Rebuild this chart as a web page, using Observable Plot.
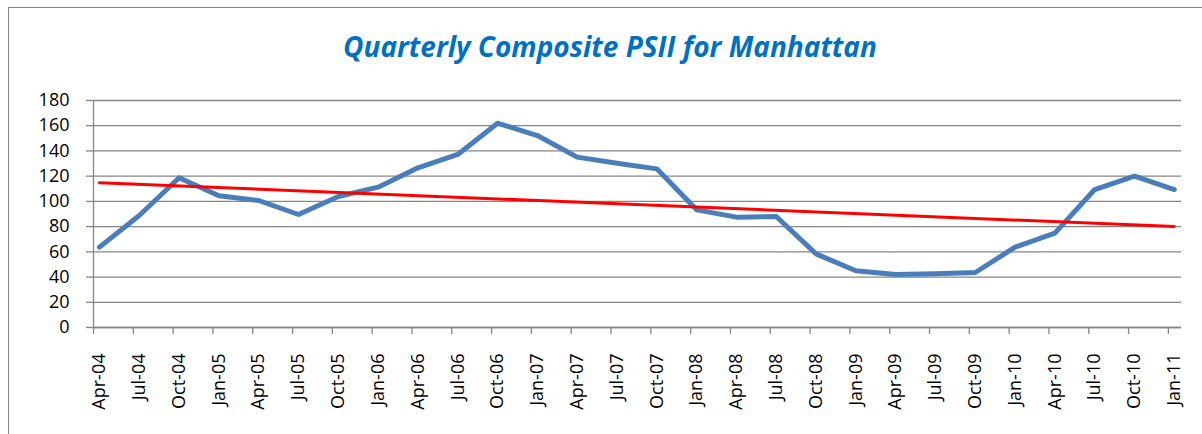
<!DOCTYPE html>
<html>
<head>
<meta charset="utf-8">
<script src="https://cdn.jsdelivr.net/npm/d3@7"></script>
<script src="https://cdn.jsdelivr.net/npm/@observablehq/plot@0.6"></script>
<style>
  html, body { margin: 0; padding: 0; background: #fff; overflow: hidden; }
  body { width: 1202px; height: 434px; position: relative; font-family: "Open Sans", sans-serif; }
  #frame { position: absolute; left: 8px; top: 7px; width: 1220px; height: 460px; border: 1px solid #868686; box-sizing: border-box; pointer-events: none; }
  #title { position: relative; height: 80px; width: 1202px; }
  #title span { position: absolute; left: 610px; top: 27px; transform: translateX(-50%); white-space: nowrap;
    font-family: "Open Sans", sans-serif; font-weight: bold; font-style: italic; font-size: 28px; color: #0070C0; }
  #chart { position: relative; }
</style>
</head>
<body>
<div id="frame"></div>
<div id="title"><span>Quarterly Composite PSII for Manhattan</span></div>
<div id="chart"></div>
<script>
// Category labels (quarters)
const quarters = ["Apr-04","Jul-04","Oct-04","Jan-05","Apr-05","Jul-05","Oct-05","Jan-06","Apr-06","Jul-06","Oct-06","Jan-07","Apr-07","Jul-07","Oct-07","Jan-08","Apr-08","Jul-08","Oct-08","Jan-09","Apr-09","Jul-09","Oct-09","Jan-10","Apr-10","Jul-10","Oct-10","Jan-11"];
// Composite PSII values
const psii = [63.7, 88.8, 118.7, 104.4, 100.7, 89.6, 103.9, 111.3, 126.6, 137.2, 162, 152.2, 135.1, 130.3, 125.8, 93.3, 87.5, 88, 58.4, 45, 42, 42.6, 43.6, 63.7, 74.8, 109.4, 120, 109.4];
// Y axis tick values
const yTicks = [0, 20, 40, 60, 80, 100, 120, 140, 160, 180];

const pointOffset = 0.15;
const data = quarters.map((q, i) => ({q, i, x: i + pointOffset, v: psii[i]}));

const chart = Plot.plot({
  width: 1202,
  height: 354,
  marginLeft: 93,
  marginRight: 21,
  marginTop: 20,
  marginBottom: 107,
  style: {fontFamily: "Open Sans, sans-serif", fontSize: "18px", color: "#000", background: "transparent"},
  x: {type: "linear", domain: [0, 27.33]},
  y: {domain: [0, 180]},
  marks: [
    Plot.gridY(yTicks, {stroke: "#868686", strokeOpacity: 1, strokeWidth: 1.3}),
    Plot.axisY(yTicks, {tickSize: 7, tickPadding: 17, stroke: "#868686", strokeWidth: 1.3, label: null, tickFormat: d => String(d)}),
    Plot.axisX(d3.range(quarters.length), {tickSize: 7, tickFormat: () => "", stroke: "#868686", strokeWidth: 1.3, label: null}),
    Plot.axisX(data.map(d => d.x), {tickSize: 0, tickPadding: 26, tickRotate: -90, tickFormat: (d, k) => quarters[Math.round(d - pointOffset)], label: null}),
    Plot.ruleX([0], {y1: 0, y2: 180, stroke: "#868686", strokeWidth: 1.3}),
    Plot.ruleY([0], {stroke: "#868686", strokeWidth: 1.3}),
    Plot.line(data, {x: "x", y: "v", stroke: "#4A7EBB", strokeWidth: 5, strokeLinejoin: "round", strokeLinecap: "round"}),
    Plot.linearRegressionY(data, {x: "x", y: "v", stroke: "#FF0000", strokeWidth: 3, ci: 0})
  ]
});
document.getElementById("chart").appendChild(chart);
</script>
</body>
</html>
